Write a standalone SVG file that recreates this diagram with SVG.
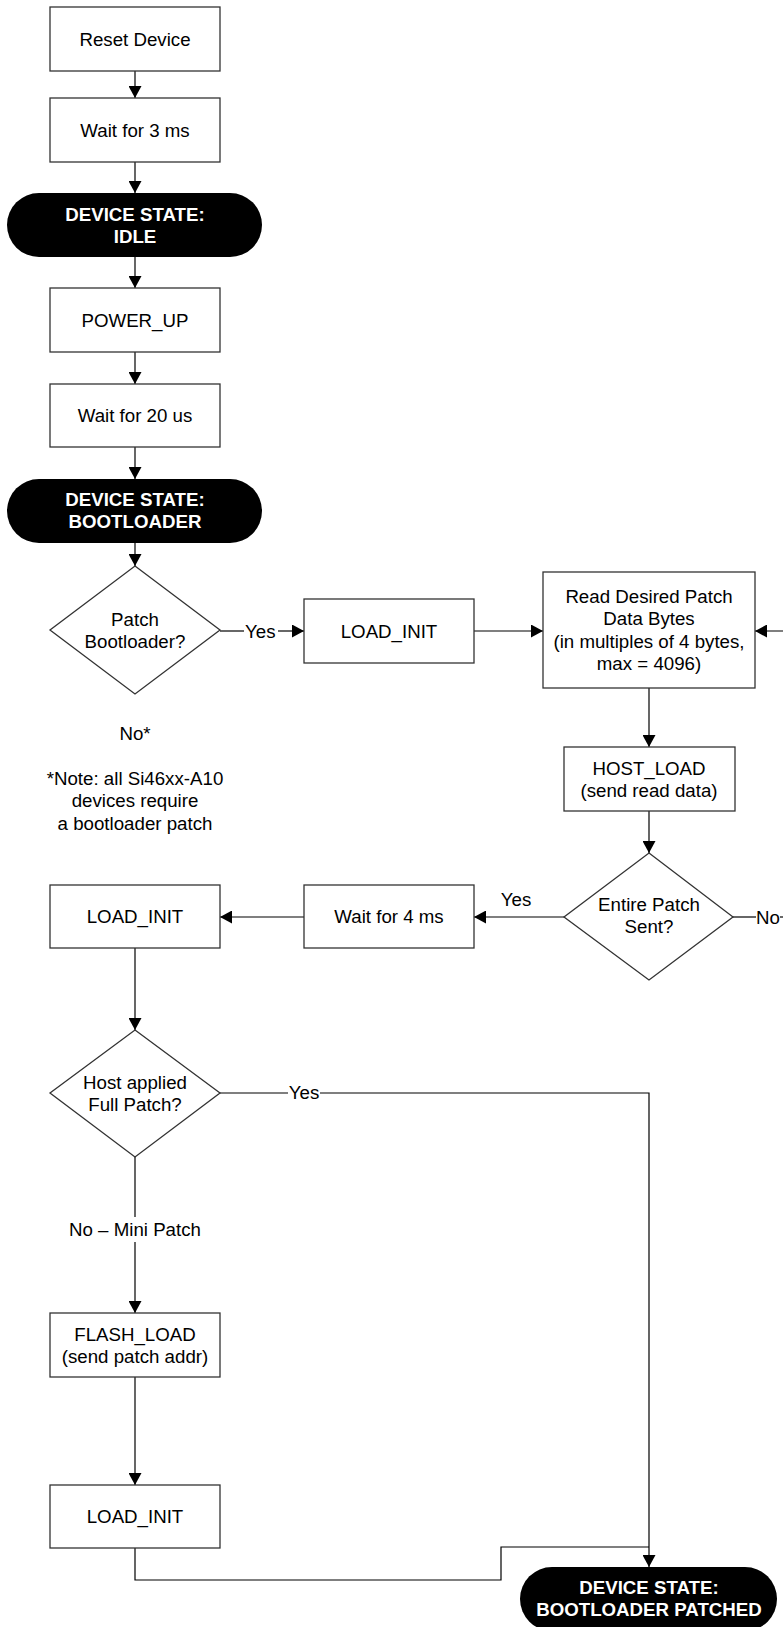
<svg xmlns="http://www.w3.org/2000/svg" width="783" height="1627" viewBox="0 0 783 1627">
  <defs>
    <marker id="arrow" markerUnits="userSpaceOnUse" markerWidth="12" markerHeight="13" refX="12" refY="6.5" orient="auto">
      <path d="M0,0 L12,6.5 L0,13 Z" fill="#000"/>
    </marker>
    <style>
      .box { fill: #fff; stroke: #333; stroke-width: 1.3; }
      .pill { fill: #000; }
      .t { font-family: "Liberation Sans", Arial, sans-serif; font-size: 18.7px; text-anchor: middle; fill: #000; }
      .ts { font-family: "Liberation Sans", Arial, sans-serif; font-size: 18.7px; text-anchor: start; fill: #000; }
      .tw { font-family: "Liberation Sans", Arial, sans-serif; font-size: 18.7px; font-weight: bold; text-anchor: middle; fill: #fff; }
      .line { stroke: #000; stroke-width: 1.2; fill: none; }
      .arr { stroke: #000; stroke-width: 1.2; fill: none; marker-end: url(#arrow); }
    </style>
  </defs>
  <rect width="783" height="1627" fill="#fff"/>

  <!-- connectors -->
  <g id="connectors">
    <line class="arr" x1="135" y1="71" x2="135" y2="98"/>
    <line class="arr" x1="135" y1="162" x2="135" y2="193"/>
    <line class="arr" x1="135" y1="257" x2="135" y2="288"/>
    <line class="arr" x1="135" y1="352" x2="135" y2="384"/>
    <line class="arr" x1="135" y1="447" x2="135" y2="479"/>
    <line class="arr" x1="135" y1="543" x2="135" y2="566"/>
    <!-- Patch Bootloader? : Yes -->
    <line class="line" x1="220" y1="631" x2="244" y2="631"/>
    <line class="arr" x1="278" y1="631" x2="304" y2="631"/>
    <line class="arr" x1="474" y1="631" x2="543" y2="631"/>
    <!-- loop back from the No branch -->
    <line class="arr" x1="790" y1="631" x2="755" y2="631"/>
    <line class="arr" x1="649" y1="688" x2="649" y2="747"/>
    <line class="arr" x1="649" y1="811" x2="649" y2="853"/>
    <!-- Entire Patch Sent? : Yes / No -->
    <line class="arr" x1="564" y1="917" x2="474" y2="917"/>
    <line class="line" x1="733" y1="917" x2="756" y2="917"/>
    <line class="line" x1="780" y1="917" x2="790" y2="917"/>
    <line class="arr" x1="304" y1="917" x2="220" y2="917"/>
    <line class="arr" x1="135" y1="948" x2="135" y2="1030"/>
    <!-- Host applied Full Patch? : Yes -->
    <line class="line" x1="220" y1="1093" x2="288" y2="1093"/>
    <polyline class="arr" points="320,1093 649,1093 649,1567"/>
    <!-- Host applied Full Patch? : No - Mini Patch -->
    <line class="line" x1="135" y1="1157" x2="135" y2="1217"/>
    <line class="arr" x1="135" y1="1242" x2="135" y2="1313"/>
    <line class="arr" x1="135" y1="1377" x2="135" y2="1485"/>
    <polyline class="line" points="135,1548 135,1580 501,1580 501,1547 649,1547"/>
  </g>

  <!-- connector labels -->
  <g id="labels">
    <text class="ts" x="245" y="637.5">Yes</text>
    <text class="t" x="516" y="906">Yes</text>
    <text class="ts" x="756" y="923.5">No</text>
    <text class="t" x="304" y="1099">Yes</text>
    <text class="t" x="135" y="1236">No – Mini Patch</text>
    <text class="t" x="135" y="740">No*</text>
  </g>

  <g id="note">
    <text class="t" x="135" y="785">*Note: all Si46xx-A10</text>
    <text class="t" x="135" y="807">devices require</text>
    <text class="t" x="135" y="830">a bootloader patch</text>
  </g>

  <g id="reset-device">
    <rect class="box" x="50" y="7" width="170" height="64"/>
    <text class="t" x="135" y="45.5">Reset Device</text>
  </g>
  <g id="wait-3ms">
    <rect class="box" x="50" y="98" width="170" height="64"/>
    <text class="t" x="135" y="136.5">Wait for 3 ms</text>
  </g>
  <g id="state-idle">
    <rect class="pill" x="7" y="193" width="255" height="64" rx="32" ry="32"/>
    <text class="tw" x="135" y="220.5">DEVICE STATE:</text>
    <text class="tw" x="135" y="242.5">IDLE</text>
  </g>
  <g id="power-up">
    <rect class="box" x="50" y="288" width="170" height="64"/>
    <text class="t" x="135" y="326.5">POWER_UP</text>
  </g>
  <g id="wait-20us">
    <rect class="box" x="50" y="384" width="170" height="63"/>
    <text class="t" x="135" y="422">Wait for 20 us</text>
  </g>
  <g id="state-bootloader">
    <rect class="pill" x="7" y="479" width="255" height="64" rx="32" ry="32"/>
    <text class="tw" x="135" y="505.5">DEVICE STATE:</text>
    <text class="tw" x="135" y="528">BOOTLOADER</text>
  </g>
  <g id="patch-bootloader">
    <polygon class="box" points="135,566 220,630 135,694 50,630"/>
    <text class="t" x="135" y="626">Patch</text>
    <text class="t" x="135" y="648">Bootloader?</text>
  </g>
  <g id="load-init-1">
    <rect class="box" x="304" y="599" width="170" height="64"/>
    <text class="t" x="389" y="637.5">LOAD_INIT</text>
  </g>
  <g id="read-patch">
    <rect class="box" x="543" y="572" width="212" height="116"/>
    <text class="t" x="649" y="603">Read Desired Patch</text>
    <text class="t" x="649" y="625">Data Bytes</text>
    <text class="t" x="649" y="647.5">(in multiples of 4 bytes,</text>
    <text class="t" x="649" y="670">max = 4096)</text>
  </g>
  <g id="host-load">
    <rect class="box" x="564" y="747" width="171" height="64"/>
    <text class="t" x="649" y="775">HOST_LOAD</text>
    <text class="t" x="649" y="797">(send read data)</text>
  </g>
  <g id="entire-patch-sent">
    <polygon class="box" points="649,853 733,917 649,980 564,917"/>
    <text class="t" x="649" y="911">Entire Patch</text>
    <text class="t" x="649" y="933">Sent?</text>
  </g>
  <g id="wait-4ms">
    <rect class="box" x="304" y="885" width="170" height="63"/>
    <text class="t" x="389" y="923">Wait for 4 ms</text>
  </g>
  <g id="load-init-2">
    <rect class="box" x="50" y="885" width="170" height="63"/>
    <text class="t" x="135" y="923">LOAD_INIT</text>
  </g>
  <g id="host-full-patch">
    <polygon class="box" points="135,1030 220,1093 135,1157 50,1093"/>
    <text class="t" x="135" y="1089">Host applied</text>
    <text class="t" x="135" y="1111">Full Patch?</text>
  </g>
  <g id="flash-load">
    <rect class="box" x="50" y="1313" width="170" height="64"/>
    <text class="t" x="135" y="1340.5">FLASH_LOAD</text>
    <text class="t" x="135" y="1362.5">(send patch addr)</text>
  </g>
  <g id="load-init-3">
    <rect class="box" x="50" y="1485" width="170" height="63"/>
    <text class="t" x="135" y="1523">LOAD_INIT</text>
  </g>
  <g id="state-bootloader-patched">
    <rect class="pill" x="520" y="1567" width="257" height="64" rx="32" ry="32"/>
    <text class="tw" x="649" y="1594">DEVICE STATE:</text>
    <text class="tw" x="649" y="1616">BOOTLOADER PATCHED</text>
  </g>
</svg>
